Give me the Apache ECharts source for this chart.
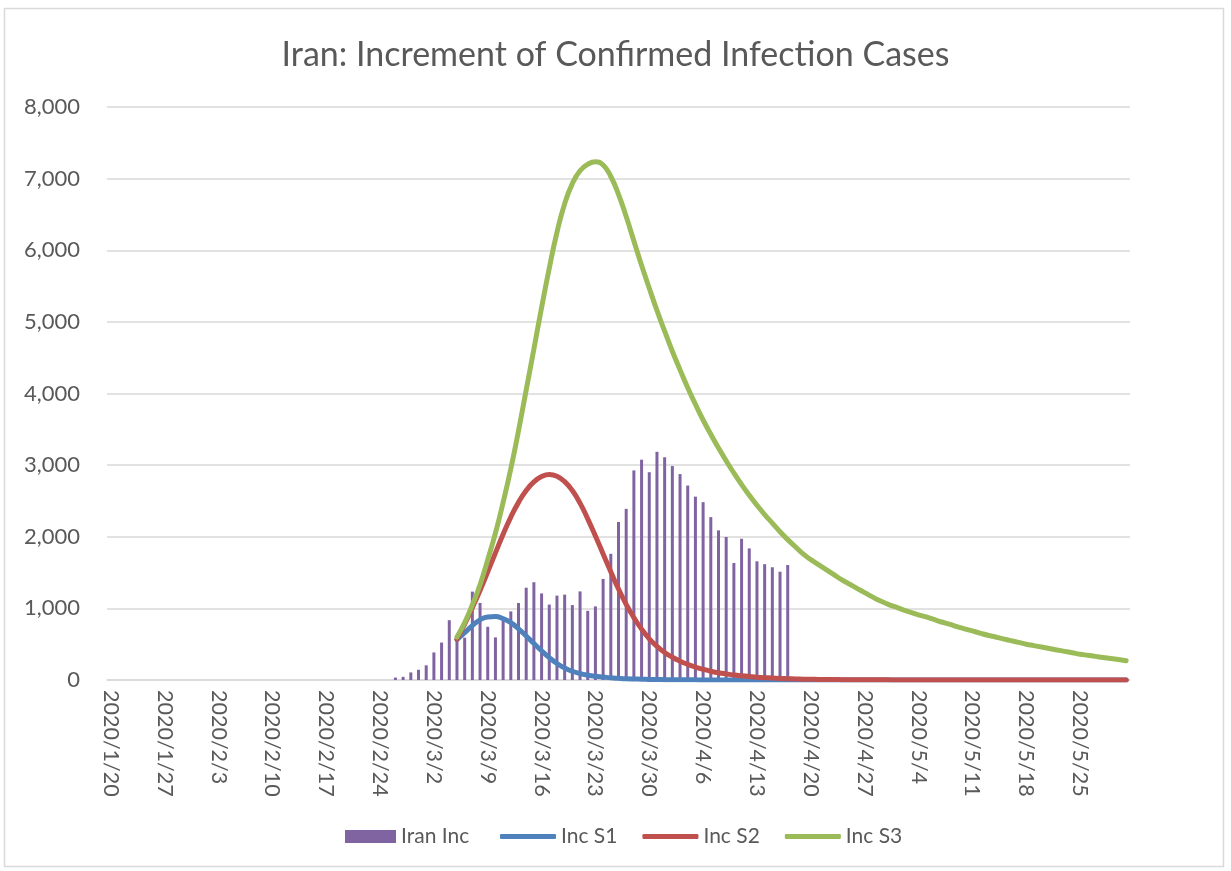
<!DOCTYPE html>
<html>
<head>
<meta charset="utf-8">
<script src="https://cdn.jsdelivr.net/npm/echarts@6/dist/echarts.min.js"></script>
<style>
  html, body { margin: 0; padding: 0; background: #fff; }
  #chart { width: 1231px; height: 871px; }
</style>
</head>
<body>
<div id="chart"></div>
<script>
// x axis: one category per day, 2020/1/20 .. 2020/5/31
const firstDay = '2020/1/20';
const dayCount = 133;

// daily increments, starting 2020/2/26, last bar 2020/4/17
const incStart = '2020/2/26';
const iranInc = [
  34, 44, 106, 143,
  205, 385, 523, 835, 586, 591, 1234, 1076, 743, 595,
  881, 958, 1075, 1289, 1365, 1209, 1053, 1178, 1192, 1046,
  1237, 966, 1028, 1411, 1762, 2206, 2389, 2926, 3076, 2901,
  3186, 3110, 2987, 2875, 2715, 2560, 2483, 2274, 2089, 1997,
  1634, 1972, 1837, 1657, 1617, 1574, 1512, 1606
];

// model curves, starting 2020/3/5
const curveStart = '2020/3/5';
const incS1 = [
  565, 660, 760, 840, 880, 885, 855, 800, 715, 615,
  510, 408, 313, 230, 168, 122, 90, 67, 51, 41,
  31, 24, 18, 14, 11, 8, 6, 5, 4, 3,
  2, 2, 1, 1, 1, 1, 0, 0, 0, 0,
  0, 0, 0, 0, 0, 0, 0, 0, 0, 0,
  0, 0, 0, 0, 0, 0, 0, 0, 0, 0,
  0, 0, 0, 0, 0, 0, 0, 0, 0, 0,
  0, 0, 0, 0, 0, 0, 0, 0, 0, 0,
  0, 0, 0, 0, 0, 0, 0, 0
];
const incS2 = [
  570, 780, 1010, 1250, 1510, 1775, 2035, 2275, 2480, 2645,
  2765, 2840, 2870, 2845, 2770, 2645, 2470, 2250, 2010, 1760,
  1510, 1270, 1055, 870, 710, 575, 470, 385, 318, 263,
  218, 181, 150, 123, 102, 85, 70, 58, 48, 40,
  33, 27, 22, 18, 15, 12, 10, 8, 7, 6,
  5, 4, 3, 3, 2, 2, 2, 1, 1, 1,
  0, 0, 0, 0, 0, 0, 0, 0, 0, 0,
  0, 0, 0, 0, 0, 0, 0, 0, 0, 0,
  0, 0, 0, 0, 0, 0, 0, 0
];
const incS3 = [
  600, 800, 1050, 1330, 1680, 2050, 2480, 2950, 3480, 4050,
  4620, 5200, 5750, 6250, 6650, 6930, 7110, 7200, 7235, 7190,
  7030, 6780, 6470, 6130, 5790, 5470, 5160, 4870, 4590, 4330,
  4080, 3850, 3630, 3430, 3240, 3060, 2890, 2730, 2580, 2440,
  2310, 2190, 2070, 1960, 1860, 1760, 1680, 1610, 1540, 1470,
  1400, 1340, 1280, 1220, 1160, 1105, 1060, 1020, 980, 945,
  910, 880, 845, 810, 780, 745, 715, 685, 655, 625,
  600, 575, 550, 525, 500, 480, 460, 440, 420, 400,
  380, 360, 345, 330, 315, 300, 285, 270
];

const yTicks = [0, 1000, 2000, 3000, 4000, 5000, 6000, 7000, 8000];

function fmtDay(d) {
  return d.getFullYear() + '/' + (d.getMonth() + 1) + '/' + d.getDate();
}
const days = [];
const d0 = new Date(firstDay);
for (let i = 0; i < dayCount; i++) {
  const d = new Date(d0.getFullYear(), d0.getMonth(), d0.getDate() + i);
  days.push(fmtDay(d));
}
// put a short series onto the full day axis
function align(start, vals) {
  const out = new Array(days.length).fill(null);
  const k = days.indexOf(start);
  vals.forEach((v, i) => { out[k + i] = v; });
  return out;
}

const txt = '#595959';
const font = 'Lato, "Open Sans", sans-serif';

const chart = echarts.init(document.getElementById('chart'));
const lineSeries = (name, color, vals) => ({
  name: name,
  type: 'line',
  data: align(curveStart, vals),
  symbol: 'none',
  smooth: true,
  lineStyle: { color: color, width: 5, cap: 'round', join: 'round' },
  itemStyle: { color: color },
  z: 3
});

chart.setOption({
  backgroundColor: '#fff',
  animation: false,
  textStyle: { fontFamily: font },
  title: {
    text: 'Iran: Increment of Confirmed Infection Cases',
    left: 'center',
    top: 33,
    textStyle: { color: txt, fontSize: 34, fontWeight: 'normal', fontFamily: font }
  },
  graphic: [{
    type: 'rect',
    shape: { x: 4.5, y: 8.5, width: 1219, height: 858 },
    style: { fill: 'none', stroke: '#d9d9d9', lineWidth: 1.5 },
    silent: true
  }],
  legend: [
    {
      // bar item
      left: 345,
      top: 826,
      padding: 0,
      itemWidth: 51,
      itemHeight: 13,
      icon: 'rect',
      textStyle: { color: txt, fontSize: 21, fontFamily: font },
      data: ['Iran Inc']
    },
    {
      // line items
      left: 500,
      top: 826,
      padding: 0,
      itemWidth: 56,
      itemHeight: 5,
      itemGap: 25,
      icon: 'roundRect',
      textStyle: { color: txt, fontSize: 21, fontFamily: font },
      data: ['Inc S1', 'Inc S2', 'Inc S3']
    }
  ],
  grid: { left: 107, right: 101, top: 107, bottom: 191 },
  xAxis: {
    type: 'category',
    data: days,
    boundaryGap: true,
    axisLine: { lineStyle: { color: '#d9d9d9', width: 1.5 } },
    axisTick: { show: false },
    axisLabel: {
      interval: 6,
      rotate: -90,
      margin: 10,
      color: txt,
      fontSize: 21.5,
      fontFamily: font
    },
    splitLine: { show: false }
  },
  yAxis: {
    type: 'value',
    min: yTicks[0],
    max: yTicks[yTicks.length - 1],
    interval: 1000,
    axisLine: { show: false },
    axisTick: { show: false },
    axisLabel: {
      margin: 27,
      color: txt,
      fontSize: 22,
      fontFamily: font,
      formatter: v => v.toLocaleString('en-US')
    },
    splitLine: { lineStyle: { color: '#d9d9d9', width: 1.5 } }
  },
  series: [
    {
      name: 'Iran Inc',
      type: 'bar',
      data: align(incStart, iranInc),
      barWidth: 3,
      itemStyle: { color: '#8064A2' },
      z: 2
    },
    lineSeries('Inc S1', '#4F81BD', incS1),
    lineSeries('Inc S2', '#C0504D', incS2),
    lineSeries('Inc S3', '#9BBB59', incS3)
  ]
});
</script>
</body>
</html>
